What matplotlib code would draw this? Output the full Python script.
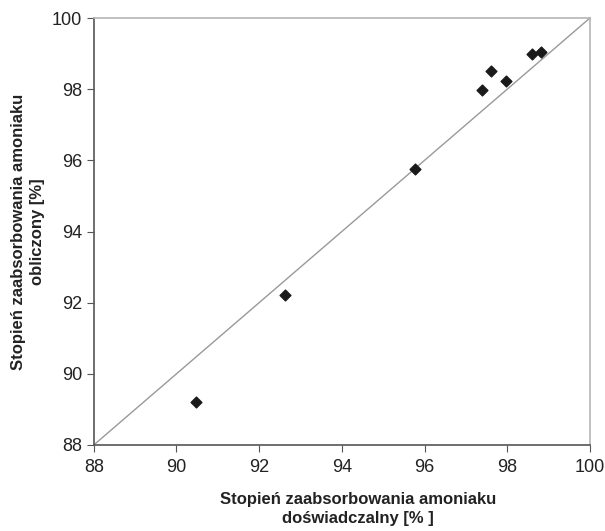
import matplotlib
matplotlib.use('Agg')
from matplotlib import pyplot as plt

# dane: stopień zaabsorbowania amoniaku
doswiadczalny = [90.48, 92.62, 95.77, 97.40, 97.62, 97.98, 98.60, 98.82]
obliczony = [89.20, 92.22, 95.76, 97.98, 98.51, 98.24, 99.00, 99.04]
ticks = [88, 90, 92, 94, 96, 98, 100]

plt.rcParams['font.family'] = ['Liberation Sans', 'DejaVu Sans']

fig = plt.figure(figsize=(6.05, 5.31), dpi=100)
ax = fig.add_axes([0.155, 0.162, 0.820, 0.804])

ax.plot([88, 100], [88, 100], color='#999999', lw=1)
ax.scatter(doswiadczalny, obliczony, marker='D', s=30, color='#1a1a1a', zorder=3)

ax.set_xlim(88, 100)
ax.set_ylim(88, 100)
ax.set_xticks(ticks)
ax.set_yticks(ticks)
ax.tick_params(axis='both', labelsize=13, direction='out', length=5,
               color='#555555', labelcolor='#222222')
ax.tick_params(axis='x', pad=5)
for s in ['top', 'right']:
    ax.spines[s].set_color('#b5b5b5')
    ax.spines[s].set_linewidth(1.2)
for s in ['left', 'bottom']:
    ax.spines[s].set_color('#555555')
    ax.spines[s].set_linewidth(1.2)

ax.set_xlabel("Stopień zaabsorbowania amoniaku\ndoświadczalny [% ]",
              fontsize=12, fontweight='bold', labelpad=12, color='#222222',
              linespacing=1.35)
ax.set_ylabel("Stopień zaabsorbowania amoniaku\nobliczony [%]",
              fontsize=12, fontweight='bold', labelpad=5, color='#222222',
              linespacing=1.35)
ax.xaxis.set_label_coords(0.532, -0.11)

fig.savefig('out.png', dpi=100)
